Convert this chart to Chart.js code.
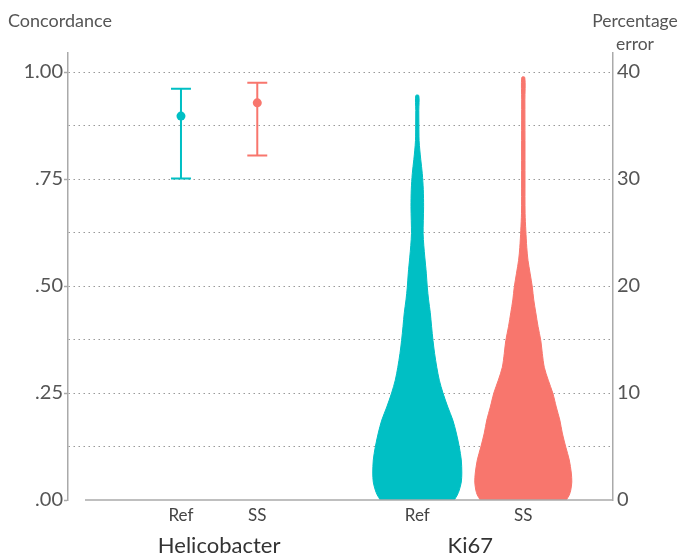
<!DOCTYPE html>
<html><head><meta charset="utf-8">
<script src="https://cdn.jsdelivr.net/npm/chart.js@4"></script>
<style>html,body{margin:0;padding:0;background:#fff;}canvas{display:block;}</style>
</head><body>
<canvas id="c" width="680" height="559"></canvas>
<script>
// ---------- data ----------
const groups = ['Helicobacter', 'Ki67'];
const methods = ['Ref', 'SS'];
// Helicobacter: concordance (left axis), mean with interval
const helicoMean = [0.897, 0.928];
const helicoLow  = [0.751, 0.805];
const helicoHigh = [0.961, 0.975];
// Ki67: percentage error distribution (right axis), relative density per level
const ki67RefLevels  = [0, 0.47, 0.93, 1.68, 2.52, 3.74, 4.95, 6.26, 7.47, 8.69, 9.99, 11.2, 12.4, 13.7, 14.9, 16.2, 17.5, 18.7, 19.9, 21.2, 22.7, 23.8, 24.9, 26.1, 27.4, 29.0, 30.5, 31.8, 32.7, 33.6, 35.0, 36.4, 37.8];
const ki67RefDensity = [0.763, 0.825, 0.866, 0.907, 0.918, 0.907, 0.866, 0.804, 0.732, 0.629, 0.530, 0.454, 0.402, 0.357, 0.324, 0.295, 0.268, 0.233, 0.206, 0.186, 0.155, 0.134, 0.120, 0.124, 0.130, 0.124, 0.103, 0.072, 0.052, 0.037, 0.033, 0.031, 0.031];
const ki67SsLevels   = [0, 0.47, 0.93, 1.68, 2.52, 3.74, 4.95, 6.26, 7.47, 8.69, 9.99, 11.2, 12.4, 13.7, 14.9, 16.2, 17.5, 18.7, 19.9, 21.2, 22.4, 23.6, 25.2, 26.8, 29.9, 33.6, 37.4, 39.5];
const ki67SsDensity  = [0.887, 0.948, 0.979, 1.0, 0.990, 0.948, 0.876, 0.804, 0.753, 0.680, 0.608, 0.515, 0.433, 0.392, 0.361, 0.305, 0.258, 0.216, 0.186, 0.140, 0.097, 0.072, 0.052, 0.037, 0.035, 0.035, 0.033, 0.031];
const concordanceTicks = [0, 0.25, 0.5, 0.75, 1];
const errorTicks = [0, 10, 20, 30, 40];

// ---------- layout / style ----------
const COLORS = ['#00BFC4', '#F8766D'];
const POS = { Helicobacter: [2.073, 3.473], Ki67: [6.409, 8.354] };
const CAP = 0.183;          // half cap width (x units)
const VIOLIN_HALF = 0.89;   // half width for density 1 (x units)
const Y_MAX = 1.0444, Y2_MAX = 41.776;
const FONT = 'Lato';

function errorBar(c, lo, hi) {
  return [
    {x: c - CAP, y: hi}, {x: c + CAP, y: hi}, {x: c, y: null},
    {x: c, y: hi}, {x: c, y: lo}, {x: c, y: null},
    {x: c - CAP, y: lo}, {x: c + CAP, y: lo}
  ];
}
function violin(c, levels, dens) {
  const right = levels.map((l, i) => ({x: c + dens[i] * VIOLIN_HALF, y: l}));
  const left = levels.map((l, i) => ({x: c - dens[i] * VIOLIN_HALF, y: l})).reverse();
  return right.concat(left);
}

const datasets = [];
methods.forEach((m, i) => {
  const c = POS.Helicobacter[i];
  datasets.push({
    type: 'line', data: errorBar(c, helicoLow[i], helicoHigh[i]), yAxisID: 'y',
    borderColor: COLORS[i], borderWidth: 2, pointRadius: 0, spanGaps: false, fill: false, tension: 0
  });
  datasets.push({
    type: 'line', data: [{x: c, y: helicoMean[i]}], yAxisID: 'y', showLine: false,
    pointRadius: 4.5, pointBackgroundColor: COLORS[i], pointBorderWidth: 0, borderColor: COLORS[i]
  });
});
[[ki67RefLevels, ki67RefDensity], [ki67SsLevels, ki67SsDensity]].forEach(([lv, dn], i) => {
  datasets.push({
    type: 'line', data: violin(POS.Ki67[i], lv, dn), yAxisID: 'y2',
    borderColor: COLORS[i], backgroundColor: COLORS[i], borderWidth: 1,
    pointRadius: 0, fill: 'shape', tension: 0.3
  });
});

const xTickValues = [POS.Helicobacter[0], (POS.Helicobacter[0] + POS.Helicobacter[1]) / 2, POS.Helicobacter[1],
                     POS.Ki67[0], (POS.Ki67[0] + POS.Ki67[1]) / 2, POS.Ki67[1]];
const xTickLabels = [methods[0], ['', groups[0]], methods[1], methods[0], ['', groups[1]], methods[1]];
const xIsGroup = [false, true, false, false, true, false];

const decor = {
  id: 'decor',
  afterDatasetsDraw(chart) {
    const {ctx, chartArea} = chart;
    ctx.save();
    ctx.strokeStyle = '#aaaaaa'; ctx.lineWidth = 1.5;
    ctx.beginPath();
    ctx.moveTo(chartArea.left + 17, chartArea.bottom);
    ctx.lineTo(chartArea.right, chartArea.bottom);
    ctx.stroke();
    ctx.fillStyle = '#555555';
    ctx.textBaseline = 'alphabetic';
    ctx.textAlign = 'left';
    ctx.font = '18px ' + FONT;
    ctx.fillText('Concordance', 8, 27);
    ctx.textAlign = 'center';
    ctx.font = '17.5px ' + FONT;
    ctx.fillText('Percentage', 635, 27);
    ctx.fillText('error', 635, 50);
    ctx.restore();
  }
};

const fmt = v => v === 1 ? '1.00' : v.toFixed(2).slice(1);
const isLabeled = v => concordanceTicks.some(t => Math.abs(t - v) < 1e-9);

new Chart(document.getElementById('c'), {
  type: 'line',
  data: { datasets },
  plugins: [decor],
  options: {
    responsive: false, animation: false,
    layout: { padding: { top: 53, left: 0, right: 0, bottom: 0 } },
    plugins: { legend: { display: false }, tooltip: { enabled: false } },
    scales: {
      x: {
        type: 'linear', min: 0, max: 10,
        grid: { display: false, drawTicks: false, tickLength: 0 }, border: { display: false },
        afterBuildTicks: s => { s.ticks = xTickValues.map(v => ({value: v})); },
        afterFit: s => { s.height = 59; },
        ticks: {
          autoSkip: false, maxRotation: 0, minRotation: 0, padding: 5,
          callback: (v, i) => xTickLabels[i],
          color: ctx => xIsGroup[ctx.index] ? '#333333' : '#444444',
          font: ctx => xIsGroup[ctx.index] ? {family: FONT, size: 22, lineHeight: 1.227} : {family: FONT, size: 17, lineHeight: 1.2}
        }
      },
      y: {
        type: 'linear', position: 'left', min: 0, max: Y_MAX,
        afterFit: s => { s.width = 68; },
        ticks: {
          stepSize: 0.125, includeBounds: false, padding: 1,
          callback: v => isLabeled(v) ? fmt(v) : '',
          color: '#555555', font: {family: FONT, size: 20}
        },
        grid: {
          color: ctx => (ctx.tick && ctx.tick.value === 0) ? 'rgba(0,0,0,0)' : '#999999',
          lineWidth: 1, tickLength: 4, drawTicks: true,
          tickColor: ctx => (ctx.tick && isLabeled(ctx.tick.value)) ? '#aaaaaa' : 'rgba(0,0,0,0)',
          tickWidth: 1.5
        },
        border: { display: true, color: '#aaaaaa', width: 1.5, dash: [1.5, 3.5] }
      },
      y2: {
        type: 'linear', position: 'right', min: 0, max: Y2_MAX,
        afterFit: s => { s.width = 67; },
        afterBuildTicks: s => { s.ticks = errorTicks.map(v => ({value: v})); },
        ticks: { padding: 4, color: '#555555', font: {family: FONT, size: 20}, callback: v => String(v) },
        grid: { display: true, drawOnChartArea: false, drawTicks: false },
        border: { display: true, color: '#aaaaaa', width: 1.5 }
      }
    }
  }
});
</script>
</body></html>
